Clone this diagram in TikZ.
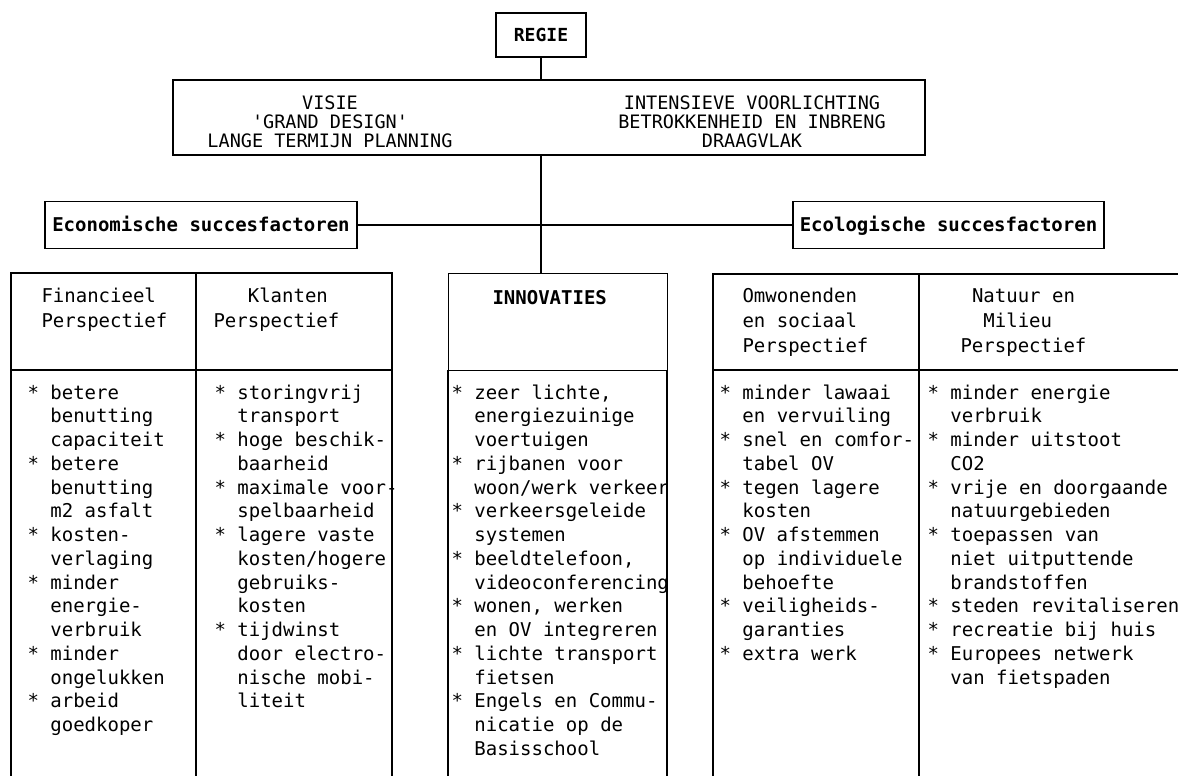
\documentclass[tikz,border=0pt]{standalone}
\usepackage{fontspec}
\newfontfamily\mono{DejaVu Sans Mono}
\newcommand\lft[2]{\vtop{\baselineskip=#1\lineskiplimit=-100pt\lineskip=0pt\halign{##\hfil\cr#2\crcr}}}
\newcommand\ctr[2]{\vtop{\baselineskip=#1\lineskiplimit=-100pt\lineskip=0pt\halign{\hfil##\hfil\cr#2\crcr}}}
\newcommand\ii{\phantom{*}~}
\begin{document}
\begin{tikzpicture}[x=1pt,y=-1pt,line width=1.1pt,
  box/.style={draw,inner sep=0pt},
  txt/.style={inner sep=0pt,font=\mono\fontsize{19}{23.7}\selectfont},
  bold/.style={inner sep=0pt,font=\mono\bfseries\fontsize{19}{23.7}\selectfont},
  tops/.style={inner sep=0pt,font=\mono\fontsize{18.5}{19}\selectfont}]
\useasboundingbox (0,0) rectangle (1178,776);
\clip (0,0) rectangle (1178,776);
\fill[white] (0,0) rectangle (1178,776);

% REGIE and top box
\node[box,bold,font=\mono\bfseries\fontsize{18}{20}\selectfont,minimum width=90pt,minimum height=44pt] (regie) at (541,35) {REGIE};
\node[box,minimum width=752pt,minimum height=75pt] (topbox) at (549,117.5) {};
\node[tops,anchor=base] (visie) at (330,110) {\ctr{19pt}{VISIE\cr 'GRAND DESIGN'\cr LANGE TERMIJN PLANNING}};
\node[tops,anchor=base] (voorl) at (752,110) {\ctr{19pt}{INTENSIEVE VOORLICHTING\cr BETROKKENHEID EN INBRENG\cr DRAAGVLAK}};

% factor boxes
\node[box,bold,minimum width=312pt,minimum height=47pt,text height=13pt,text depth=0pt] (econ) at (201,225) {Economische succesfactoren};
\node[box,bold,minimum width=311pt,minimum height=47pt,text height=13pt,text depth=0pt] (ecol) at (948.5,225) {Ecologische succesfactoren};

% innovaties header box
\node[box,minimum width=219pt,minimum height=97pt,anchor=north west] (innov) at (448,273) {};
\node[bold,anchor=base west] (innovt) at (492,304) {INNOVATIES};

% connectors
\draw (regie.south) -- (regie.south |- topbox.north);
\draw (topbox.south -| regie.south) -- (innov.north -| regie.south);
\draw (econ.east) -- (ecol.west);

% column frames
\draw (11,790) -- (11,273) -- (392,273) -- (392,790);
\draw (11,370) -- (392,370);
\draw (196,273) -- (196,790);
\draw (448,370) -- (448,790);
\draw (667,370) -- (667,790);
\draw (713,790) -- (713,274) -- (1190,274);
\draw (713,370) -- (1190,370);
\draw (919,274) -- (919,790);

% column headers
\node[txt,anchor=base west] (fint) at (41,302) {\lft{25pt}{Financieel\cr Perspectief}};
\node[txt,anchor=base west] (klt) at (213,302) {\lft{25pt}{\phantom{xxx}Klanten\cr Perspectief}};
\node[txt,anchor=base west] (omwt) at (742,302) {\lft{25pt}{Omwonenden\cr en sociaal\cr Perspectief}};
\node[txt,anchor=base west] (natt) at (960,302) {\lft{25pt}{\phantom{x}Natuur en\cr \phantom{xx}Milieu\cr Perspectief}};

% column bodies
\node[txt,anchor=base west] (finb) at (27,399) {\lft{23.75pt}{%
*~betere\cr \ii benutting\cr \ii capaciteit\cr
*~betere\cr \ii benutting\cr \ii m2 asfalt\cr
*~kosten-\cr \ii verlaging\cr
*~minder\cr \ii energie-\cr \ii verbruik\cr
*~minder\cr \ii ongelukken\cr
*~arbeid\cr \ii goedkoper}};

\node[txt,anchor=base west] (klb) at (214,399) {\lft{23.75pt}{%
*~storingvrij\cr \ii transport\cr
*~hoge beschik-\cr \ii baarheid\cr
*~maximale voor-\cr \ii spelbaarheid\cr
*~lagere vaste\cr \ii kosten/hogere\cr \ii gebruiks-\cr \ii kosten\cr
*~tijdwinst\cr \ii door electro-\cr \ii nische mobi-\cr \ii liteit}};

\node[txt,anchor=base west] (innb) at (451,399) {\lft{23.75pt}{%
*~zeer lichte,\cr \ii energiezuinige\cr \ii voertuigen\cr
*~rijbanen voor\cr \ii woon/werk verkeer\cr
*~verkeersgeleide\cr \ii systemen\cr
*~beeldtelefoon,\cr \ii videoconferencing\cr
*~wonen, werken\cr \ii en OV integreren\cr
*~lichte transport\cr \ii fietsen\cr
*~Engels en Commu-\cr \ii nicatie op de\cr \ii Basisschool}};

\node[txt,anchor=base west] (omwb) at (719,399) {\lft{23.75pt}{%
*~minder lawaai\cr \ii en vervuiling\cr
*~snel en comfor-\cr \ii tabel OV\cr
*~tegen lagere\cr \ii kosten\cr
*~OV afstemmen\cr \ii op individuele\cr \ii behoefte\cr
*~veiligheids-\cr \ii garanties\cr
*~extra werk}};

\node[txt,anchor=base west] (natb) at (927,399) {\lft{23.75pt}{%
*~minder energie\cr \ii verbruik\cr
*~minder uitstoot\cr \ii CO2\cr
*~vrije en doorgaande\cr \ii natuurgebieden\cr
*~toepassen van\cr \ii niet uitputtende\cr \ii brandstoffen\cr
*~steden revitaliseren\cr
*~recreatie bij huis\cr
*~Europees netwerk\cr \ii van fietspaden}};
\end{tikzpicture}
\end{document}
